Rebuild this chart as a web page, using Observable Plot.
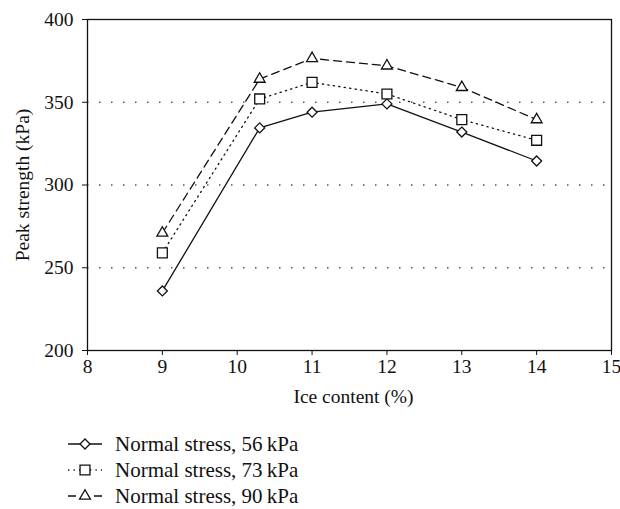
<!DOCTYPE html>
<html>
<head>
<meta charset="utf-8">
<script src="https://cdn.jsdelivr.net/npm/d3@7"></script>
<script src="https://cdn.jsdelivr.net/npm/@observablehq/plot@0.6"></script>
<style>
  html, body { margin: 0; padding: 0; background: #fff; }
  body { width: 620px; font-family: "Liberation Serif", "DejaVu Serif", serif; }
  #legend { padding-top: 16px; font-size: 21px; color: #111; }
  .row { display: flex; align-items: center; height: 26px; line-height: 26px; }
  .row svg { margin-left: 67px; margin-right: 12px; }
</style>
</head>
<body>
<div id="chart"></div>
<div id="legend"></div>
<script>
const iceContent = [9, 10.3, 11, 12, 13, 14];
const stress56 = [236, 334.5, 344, 349, 332, 314.5];
const stress73 = [259, 352, 362, 355, 339.5, 327];
const stress90 = [271, 364, 376.5, 372, 359, 339.5];
const seriesNames = ["Normal stress, 56\u2009kPa", "Normal stress, 73\u2009kPa", "Normal stress, 90\u2009kPa"];
const xTicks = [8, 9, 10, 11, 12, 13, 14, 15];
const yTicks = [200, 250, 300, 350, 400];
const gridValues = [250, 300, 350];

const styles = [
  {dash: null, symbol: "diamond2", r: 4.5},
  {dash: "1.3,4.2", symbol: "square2", r: 6.3},
  {dash: "8,5", symbol: "triangle2", r: 5.2}
];
const seriesValues = [stress56, stress73, stress90];
const data = [];
seriesValues.forEach((vals, s) => vals.forEach((v, i) => data.push({series: s, x: iceContent[i], y: v})));

const ink = "#111";
const lineMarks = [];
const dotMarks = [];
styles.forEach((st, s) => {
  const d = data.filter(p => p.series === s);
  lineMarks.push(Plot.line(d, {x: "x", y: "y", stroke: ink, strokeWidth: 1.3, strokeDasharray: st.dash ?? undefined}));
  dotMarks.push(Plot.dot(d, {x: "x", y: "y", symbol: () => st.symbol, r: st.r, fill: "white", stroke: ink, strokeWidth: 1.3}));
});

const chart = Plot.plot({
  width: 620,
  height: 415,
  marginTop: 19,
  marginLeft: 87,
  marginRight: 9,
  marginBottom: 65,
  style: {fontFamily: "'Liberation Serif', serif", fontSize: "19.5px", color: ink, background: "white"},
  x: {domain: [8, 15], ticks: xTicks, label: null},
  y: {domain: [200, 400], ticks: yTicks, label: null},
  symbol: {type: "identity"},
  marks: [
    Plot.ruleY(gridValues, {stroke: "#555", strokeWidth: 1.3, strokeDasharray: "1.5,10.5"}),
    Plot.frame({stroke: ink, strokeWidth: 1.3}),
    Plot.axisX({ticks: xTicks, tickSize: 5, tickPadding: 4, tickFormat: d => String(d), fontSize: 19.5, label: null, stroke: ink}),
    Plot.axisY({ticks: yTicks, tickSize: 5, tickPadding: 9, tickFormat: d => String(d), fontSize: 19.5, label: null, stroke: ink}),
    ...lineMarks,
    ...dotMarks,
    Plot.text([0], {frameAnchor: "left", textAnchor: "middle", text: () => "Peak strength (kPa)", rotate: -90, dx: -65, fontSize: 19.5, fill: ink}),
    Plot.text([0], {frameAnchor: "bottom", textAnchor: "middle", text: () => "Ice content (%)", dx: 4, dy: 52, fontSize: 19.5, fill: ink})
  ]
});
document.getElementById("chart").appendChild(chart);

// legend
const legend = d3.select("#legend");
const symGen = {
  diamond2: d3.symbolDiamond2,
  square2: d3.symbolSquare2,
  triangle2: d3.symbolTriangle2
};
styles.forEach((st, s) => {
  const row = legend.append("div").attr("class", "row");
  const svg = row.append("svg").attr("width", 36).attr("height", 20);
  svg.append("line").attr("x1", 1).attr("x2", 35).attr("y1", 10).attr("y2", 10)
    .attr("stroke", ink).attr("stroke-width", 1.3).attr("stroke-dasharray", st.dash);
  svg.append("path").attr("transform", "translate(18,10)")
    .attr("d", d3.symbol(symGen[st.symbol], Math.PI * st.r * st.r)())
    .attr("fill", "white").attr("stroke", ink).attr("stroke-width", 1.3);
  row.append("span").text(seriesNames[s]);
});
</script>
</body>
</html>
